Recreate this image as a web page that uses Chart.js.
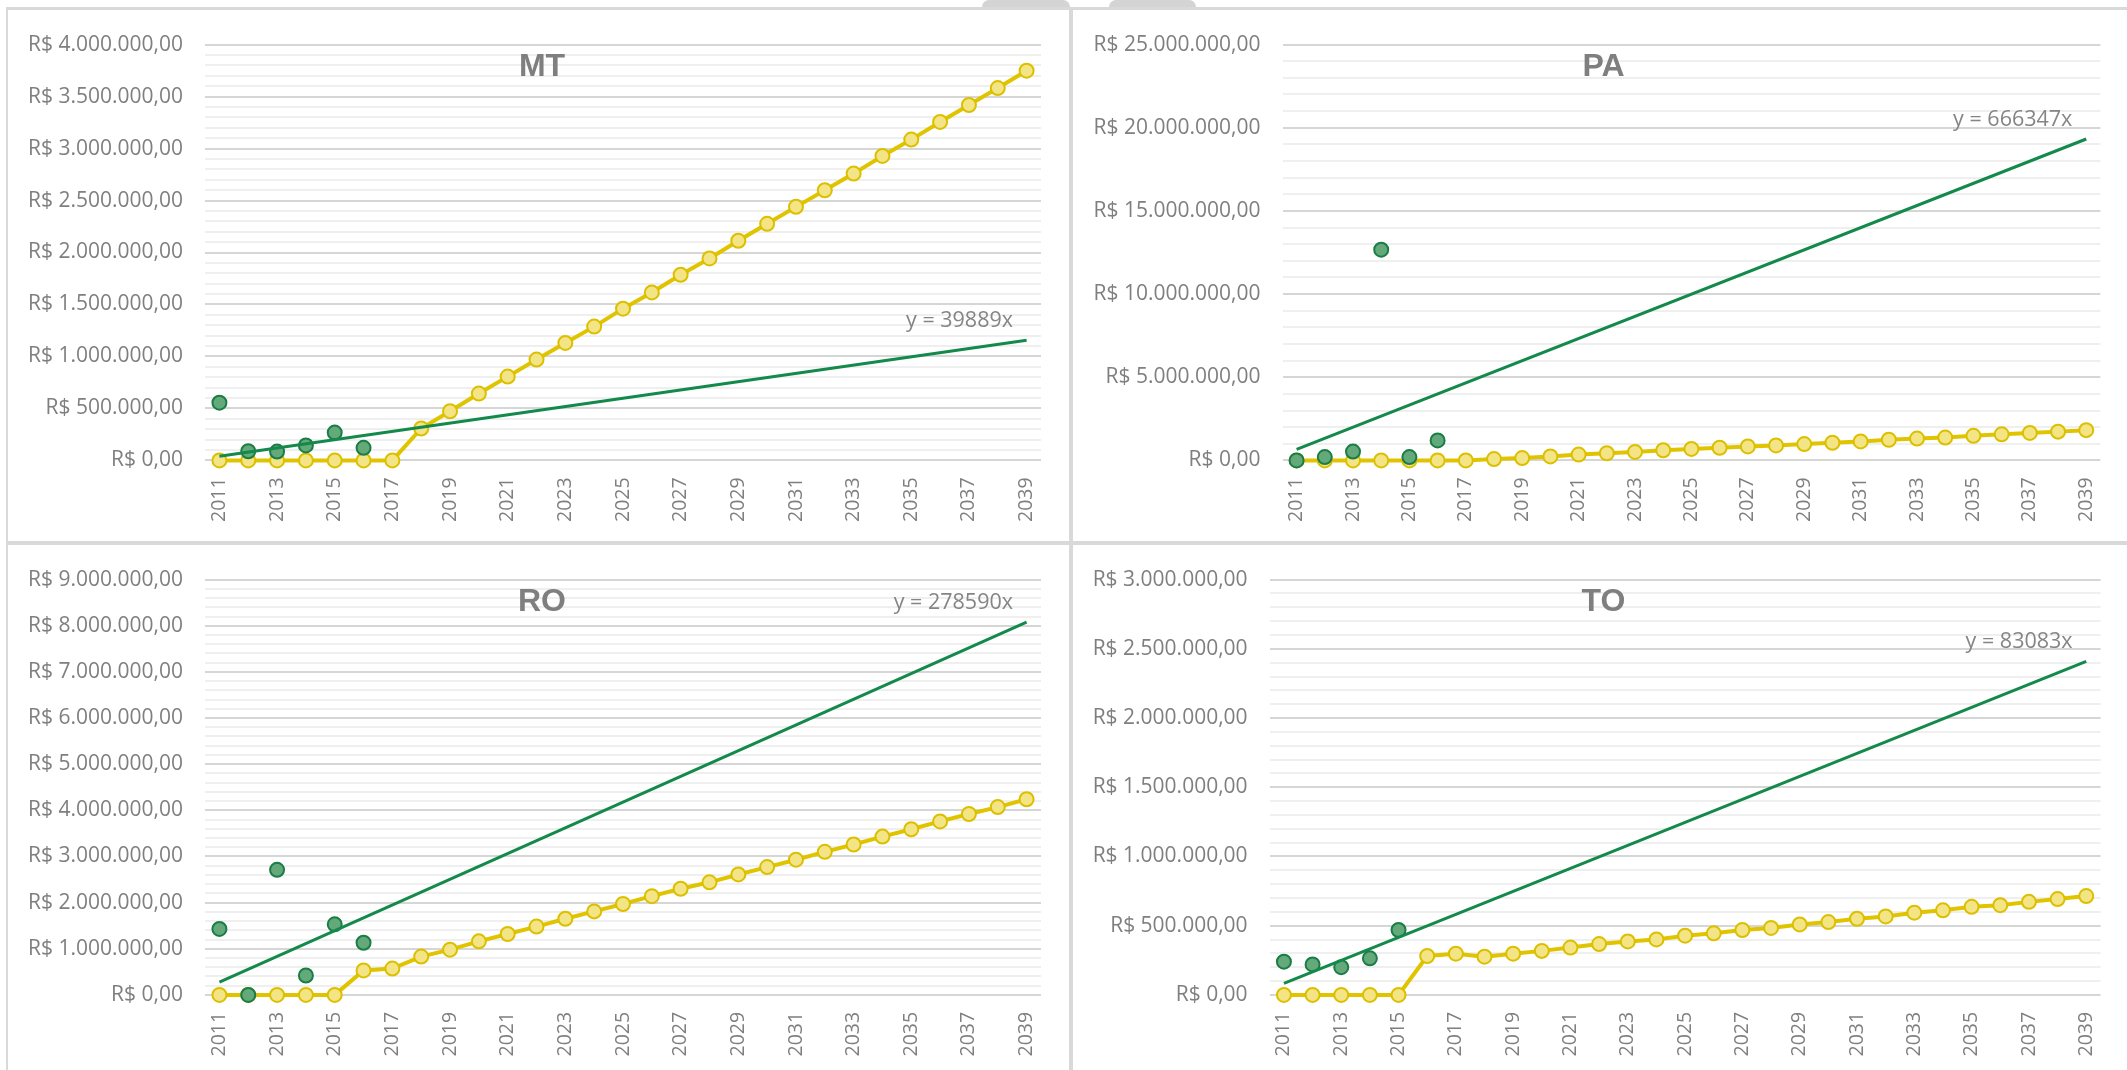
<!DOCTYPE html>
<html lang="pt-BR">
<head>
<meta charset="utf-8">
<title>Projeção por estado</title>
<script src="https://cdn.jsdelivr.net/npm/chart.js@4/dist/chart.umd.min.js"></script>
<style>
  html, body { margin: 0; padding: 0; background: #fff; }
  body { width: 2127px; height: 1070px; position: relative; overflow: hidden; }
  .panel { position: absolute; }
  .rule { position: absolute; background: #d9d9d9; }
  .tab { position: absolute; background: #d4d4d4; border-radius: 7px 7px 0 0; }
</style>
</head>
<body>
<div class="tab" style="left:982px;top:0;width:88px;height:8px"></div>
<div class="tab" style="left:1109px;top:0;width:87px;height:8px"></div>
<div class="rule" style="left:6px;top:7px;width:2121px;height:3px"></div>
<div class="rule" style="left:6px;top:7px;width:2px;height:1063px"></div>
<div class="rule" style="left:1069px;top:7px;width:4px;height:1063px"></div>
<div class="rule" style="left:6px;top:541px;width:2121px;height:4px"></div>

<div class="panel" style="left:8px;top:10px"><canvas id="mt" width="1061" height="531"></canvas></div>
<div class="panel" style="left:1073px;top:10px"><canvas id="pa" width="1054" height="531"></canvas></div>
<div class="panel" style="left:8px;top:545px"><canvas id="ro" width="1061" height="525"></canvas></div>
<div class="panel" style="left:1073px;top:545px"><canvas id="to" width="1054" height="525"></canvas></div>

<script>
// anos (eixo x)
const years = ['2011','2012','2013','2014','2015','2016','2017','2018','2019','2020',
	'2021','2022','2023','2024','2025','2026','2027','2028','2029','2030',
	'2031','2032','2033','2034','2035','2036','2037','2038','2039'];

// MT
const mtProjecao = [0, 0, 0, 0, 0, 0, 0, 307000, 473000, 643000, 806000, 970000, 1130000, 1287000,
	1460000, 1616000, 1786000, 1943000, 2113000, 2276000, 2439000, 2599000, 2759000, 2929000,
	3086000, 3256000, 3419000, 3582000, 3749000];
const mtRealizado = [555000, 88000, 85000, 144000, 268000, 121000];

// PA
const paProjecao = [0, 0, 0, 0, 0, 0, 0, 80000, 140000, 240000, 350000, 430000, 510000, 610000,
	690000, 760000, 840000, 900000, 980000, 1060000, 1140000, 1240000, 1310000, 1370000,
	1480000, 1570000, 1650000, 1730000, 1820000];
const paRealizado = [0, 200000, 530000, 12670000, 200000, 1200000];

// RO
const roProjecao = [0, 0, 0, 0, 0, 530000, 570000, 830000, 980000, 1160000, 1320000, 1480000,
	1650000, 1810000, 1970000, 2140000, 2300000, 2440000, 2610000, 2770000, 2930000, 3100000,
	3260000, 3430000, 3590000, 3760000, 3920000, 4070000, 4240000];
const roRealizado = [1430000, 0, 2710000, 420000, 1530000, 1130000];

// TO
const toProjecao = [0, 0, 0, 0, 0, 281000, 298000, 276000, 298000, 318000, 342000, 367000,
	386000, 401000, 428000, 445000, 469000, 484000, 509000, 526000, 550000, 567000, 594000,
	611000, 636000, 648000, 672000, 692000, 714000];
const toRealizado = [240000, 220000, 200000, 264000, 469000];

// coeficientes das linhas de tendência (y = a·x, x = 1 em 2011)
const trendSlopes = { MT: 39889, PA: 666347, RO: 278590, TO: 83083 };

// limites do eixo y e passo das linhas de grade secundárias
const yMax = { MT: 4000000, PA: 25000000, RO: 9000000, TO: 3000000 };
const yMinorStep = { MT: 100000, PA: 1000000, RO: 200000, TO: 100000 };

function brl(v) {
	const s = Math.round(v).toString().replace(/\B(?=(\d{3})+(?!\d))/g, '.');
	return 'R$ ' + s + ',00';
}

function trendData(slope) {
	// só as duas pontas, a linha liga as duas
	let d = years.map(() => null);
	d[0] = slope * 1;
	d[years.length - 1] = slope * years.length;
	return d;
}

const panelText = {
	id: 'panelText',
	beforeDatasetsDraw(chart, args, opts) {
		const { ctx, chartArea, scales } = chart;
		ctx.save();
		ctx.fillStyle = '#7f7f7f';
		ctx.textBaseline = 'alphabetic';
		ctx.font = 'bold 32px "Liberation Sans"';
		ctx.textAlign = 'center';
		ctx.fillText(opts.title, chart.width / 2 + 3.5, chartArea.top + 31);
		ctx.fillStyle = '#858585';
		ctx.font = '21.5px "Open Sans"';
		ctx.textAlign = 'right';
		const yEnd = scales.y.getPixelForValue(opts.slope * years.length);
		ctx.fillText('y = ' + opts.slope + 'x', chartArea.right - 28, yEnd - 13);
		ctx.restore();
	}
};

function makeChart(id, uf, projecao, realizado, box) {
	const step = yMinorStep[uf];
	const isMajor = v => Math.round(v / step) % 5 === 0;
	return new Chart(document.getElementById(id), {
		type: 'line',
		data: {
			labels: years,
			datasets: [
				{
					label: 'Tendência',
					data: trendData(trendSlopes[uf]),
					spanGaps: true,
					borderColor: '#13894b',
					borderWidth: 3,
					pointRadius: 0,
					order: 0,
					clip: false
				},
				{
					label: 'Realizado',
					data: realizado,
					showLine: false,
					pointRadius: 7,
					pointBorderWidth: 2,
					pointBackgroundColor: '#64a97a',
					pointBorderColor: '#1a7d46',
					order: 1,
					clip: false
				},
				{
					label: 'Projeção',
					data: projecao,
					borderColor: '#e0c400',
					borderWidth: 4,
					pointRadius: 7,
					pointBorderWidth: 2,
					pointBackgroundColor: '#f3e485',
					pointBorderColor: '#dcc000',
					order: 2,
					clip: false
				}
			]
		},
		options: {
			responsive: false,
			animation: false,
			devicePixelRatio: 1,
			layout: { padding: { top: box.top, right: box.right, bottom: 0, left: 0 } },
			plugins: {
				legend: { display: false },
				tooltip: { enabled: false },
				panelText: { title: uf, slope: trendSlopes[uf] }
			},
			scales: {
				x: {
					offset: true,
					grid: { display: false, drawTicks: false },
					border: { display: false },
					ticks: {
						autoSkip: false,
						minRotation: 90,
						maxRotation: 90,
						padding: 17,
						color: '#7f7f7f',
						font: { family: 'Open Sans', size: 19.5 },
						callback: function (v, i) { return i % 2 === 0 ? this.getLabelForValue(v) : ''; }
					},
					afterFit: s => { s.height = box.xh; }
				},
				y: {
					min: 0,
					max: yMax[uf],
					grid: {
						drawTicks: false,
						lineWidth: 2,
						color: c => (c.tick && isMajor(c.tick.value)) ? '#d6d6d6' : '#efefef'
					},
					border: { display: false },
					ticks: {
						stepSize: step,
						autoSkip: false,
						padding: 22,
						color: '#7f7f7f',
						font: { family: 'Open Sans', size: 21 },
						callback: v => isMajor(v) ? brl(v) : ''
					},
					afterFit: s => { s.width = box.yw; }
				}
			}
		},
		plugins: [panelText]
	});
}

makeChart('mt', 'MT', mtProjecao, mtRealizado, { top: 28.6, right: 28, yw: 197, xh: 80.6 });
makeChart('pa', 'PA', paProjecao, paRealizado, { top: 28.6, right: 20.4, yw: 209.5, xh: 80.6 });
makeChart('ro', 'RO', roProjecao, roRealizado, { top: 27.4, right: 28, yw: 197, xh: 75.1 });
makeChart('to', 'TO', toProjecao, toRealizado, { top: 27.4, right: 20.4, yw: 196.6, xh: 75.1 });
</script>
</body>
</html>
